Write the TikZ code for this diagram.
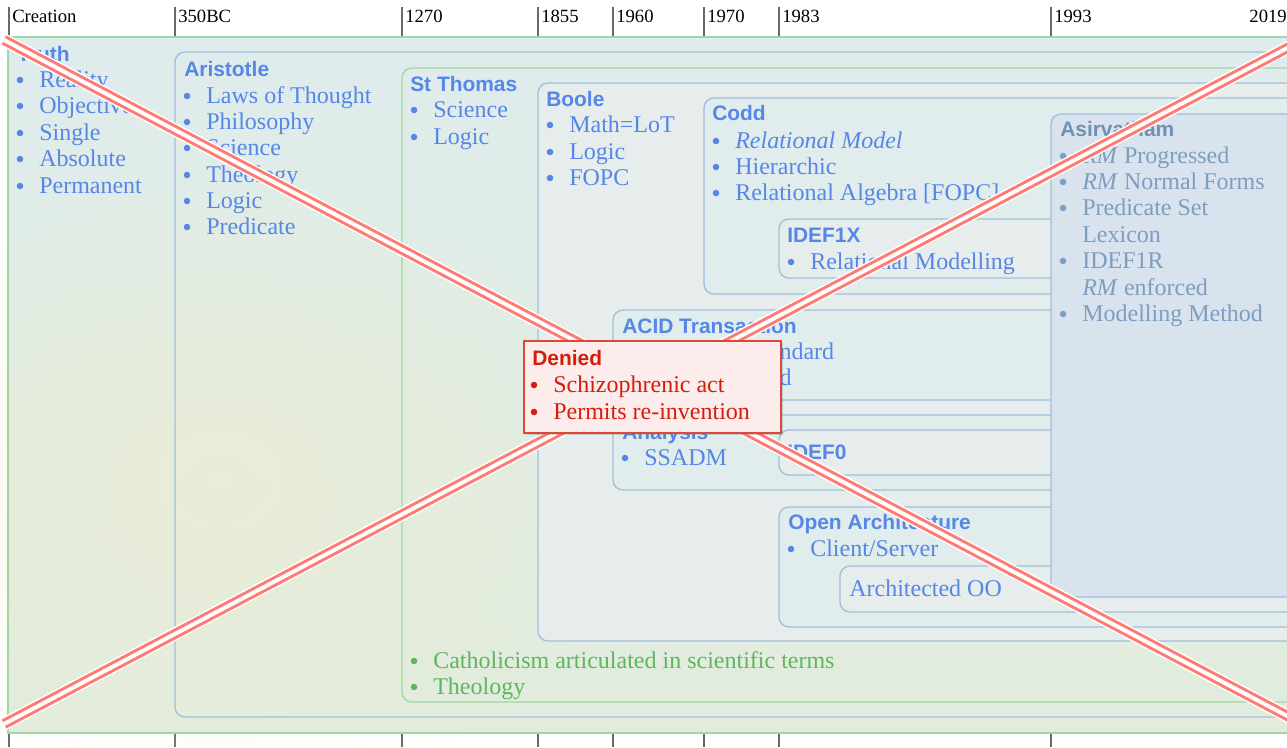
\documentclass[tikz,border=0pt]{standalone}
\usepackage{fontspec}
\setmainfont{Liberation Serif}
\setsansfont{Liberation Sans}
\usetikzlibrary{shadows,fadings}
\tikzfading[name=softspot, inner color=transparent!0, outer color=transparent!100]
\definecolor{tblue}{RGB}{86,134,232}
\definecolor{tgreen}{RGB}{92,184,92}
\definecolor{lgreen}{RGB}{162,214,162}
\definecolor{lblue}{RGB}{162,190,220}
\definecolor{asfill}{RGB}{217,227,237}
\definecolor{astext}{RGB}{125,158,192}
\definecolor{astitle}{RGB}{112,144,180}
\definecolor{dfill}{RGB}{253,236,236}
\definecolor{dline}{RGB}{222,72,56}
\definecolor{dtext}{RGB}{212,30,10}
\definecolor{tickc}{RGB}{105,105,105}
\definecolor{xred}{RGB}{255,122,114}
\definecolor{bluish}{RGB}{224,237,236}
\definecolor{greyish}{RGB}{231,237,236}
\definecolor{truthtop}{RGB}{223,236,236}
\definecolor{truthbot}{RGB}{226,236,221}
\definecolor{tint}{RGB}{240,236,205}
\newcommand\li[5]{\node[bul, fill=#4] (#1b) at (#2+4,#3-7) {}; \node[txt, text=#4] (#1) at (#2+23,#3) {#5};}
\begin{document}
\begin{tikzpicture}[x=0.75pt,y=-0.75pt,
  bx/.style={line width=1pt, rounded corners=7.5pt},
  gbx/.style={bx, draw=lgreen},
  bbx/.style={bx, draw=lblue},
  ttl/.style={anchor=base west, inner sep=0pt, font=\sffamily\bfseries\fontsize{15.7}{18}\selectfont, text=tblue},
  txt/.style={anchor=base west, inner sep=0pt, font=\fontsize{18}{20}\selectfont, text=tblue},
  bul/.style={circle, inner sep=0pt, minimum size=4.9pt, draw=none},
  yr/.style={anchor=base west, inner sep=0pt, font=\fontsize{14}{16}\selectfont, text=black},
  tk/.style={draw=tickc, line width=1.1pt},
  xw/.style={draw=white, line width=9.75pt},
  xr/.style={draw=xred, line width=7.5pt},
  xi/.style={draw=white, line width=3pt},
  deniedbox/.style={draw=dline, fill=dfill, line width=1.2pt, anchor=north west, inner sep=0pt,
     minimum width=192.75pt, minimum height=69pt,
     drop shadow={shadow xshift=1.5pt, shadow yshift=-2pt, opacity=0.25, fill=black!60}}
]
\useasboundingbox (0,0) rectangle (1287,747);
\clip (0,0) rectangle (1287,747);
\fill[white] (0,0) rectangle (1287,747);

% timeline
\foreach \t in {9,175,402,538,613,704,779,1051} {
  \draw[tk] (\t,7) -- (\t,37);
  \draw[tk] (\t,733) -- (\t,747);
}
\node[yr] (y0) at (12,22) {Creation};
\node[yr] (y1) at (178,22) {350BC};
\node[yr] (y2) at (405,22) {1270};
\node[yr] (y3) at (541,22) {1855};
\node[yr] (y4) at (616,22) {1960};
\node[yr] (y5) at (707,22) {1970};
\node[yr] (y6) at (782,22) {1983};
\node[yr] (y7) at (1054,22) {1993};
\node[yr, anchor=base east] (y8) at (1287,22) {2019};

% Truth box
\shade[top color=truthtop, bottom color=truthbot] (8,37) rectangle (1300,733);
\fill[tint, path fading=softspot, fill opacity=0.55] (220,480) ellipse [x radius=400, y radius=320];
\draw[lgreen, line width=1pt] (8,37) rectangle (1300,733);

% nested boxes
\draw[bbx] (175,52) rectangle (1310,717);
\draw[gbx] (402,68) rectangle (1310,702);
\filldraw[bbx, fill=greyish] (538,83) rectangle (1310,641);
\filldraw[bbx, fill=bluish] (704,98) rectangle (1310,294);
\filldraw[bbx, fill=greyish] (779,219) rectangle (1310,278);
\filldraw[bbx, fill=bluish] (613,310) rectangle (1310,400);
\filldraw[bbx, fill=bluish] (613,415) rectangle (1310,490);
\filldraw[bbx, fill=greyish] (779,430) rectangle (1310,475);
\filldraw[bbx, fill=bluish] (779,507) rectangle (1310,627);
\filldraw[bbx, fill=greyish] (840,566) rectangle (1310,612);
\filldraw[bbx, fill=asfill] (1051,114) rectangle (1310,597);

% Truth
\node[ttl] (truth) at (17,61) {Truth};
\li{tr1}{16}{87}{tblue}{Reality}
\li{tr2}{16}{113}{tblue}{Objective}
\li{tr3}{16}{140}{tblue}{Single}
\li{tr4}{16}{166}{tblue}{Absolute}
\li{tr5}{16}{193}{tblue}{Permanent}

% Aristotle
\node[ttl] (arist) at (184,76) {Aristotle};
\li{ar1}{183}{103}{tblue}{Laws of Thought}
\li{ar2}{183}{129}{tblue}{Philosophy}
\li{ar3}{183}{155}{tblue}{Science}
\li{ar4}{183}{182}{tblue}{Theology}
\li{ar5}{183}{208}{tblue}{Logic}
\li{ar6}{183}{234}{tblue}{Predicate}

% St Thomas
\node[ttl] (thomas) at (410,91) {St Thomas};
\li{st1}{410}{117}{tblue}{Science}
\li{st2}{410}{144}{tblue}{Logic}
\li{st3}{410}{668}{tgreen}{Catholicism articulated in scientific terms}
\li{st4}{410}{694}{tgreen}{Theology}

% Boole
\node[ttl] (boole) at (546,106) {Boole};
\li{bo1}{546}{132}{tblue}{Math=LoT}
\li{bo2}{546}{159}{tblue}{Logic}
\li{bo3}{546}{185}{tblue}{FOPC}

% Codd
\node[ttl] (codd) at (712,120) {Codd};
\li{co1}{712}{148}{tblue}{\itshape Relational Model}
\li{co2}{712}{174}{tblue}{Hierarchic}
\li{co3}{712}{200}{tblue}{Relational Algebra [FOPC]}

% IDEF1X
\node[ttl] (idef1x) at (787,242) {IDEF1X};
\li{ix1}{787}{269}{tblue}{Relational Modelling}

% ACID
\node[ttl] (acid) at (622,333) {ACID Transaction};
\li{ac1}{621}{359}{tblue}{Enterprise Standard}
\li{ac2}{621}{385}{tblue}{ANSI Standard}

% Analysis
\node[ttl] (analysis) at (622,439) {Analysis};
\li{an1}{621}{465}{tblue}{SSADM}

% IDEF0
\node[ttl] (idef0) at (787,459) {IDEF0};

% Open Architecture
\node[ttl] (openarch) at (788,529) {Open Architecture};
\li{oa1}{787}{556}{tblue}{Client/Server}
\node[txt] (archoo) at (849,596) {Architected OO};

% Asirvatham
\node[ttl, text=astitle] (asir) at (1060,136) {Asirvatham};
\li{as1}{1059}{163}{astext}{\textit{RM} Progressed}
\li{as2}{1059}{189}{astext}{\textit{RM} Normal Forms}
\li{as3}{1059}{215}{astext}{Predicate Set}
\node[txt, text=astext] (as3b) at (1082,242) {Lexicon};
\li{as4}{1059}{268}{astext}{IDEF1R}
\node[txt, text=astext] (as4b) at (1082,295) {\textit{RM} enforced};
\li{as5}{1059}{321}{astext}{Modelling Method}

% red X
\coordinate (xa1) at (4,40);
\coordinate (xa2) at (1293,719);
\coordinate (xb1) at (4,724);
\coordinate (xb2) at (1293,45);
\draw[xw] (xa1) -- (xa2);
\draw[xr] (xa1) -- (xa2);
\draw[xi] (xa1) -- (xa2);
\draw[xw] (xb1) -- (xb2);
\draw[xr] (xb1) -- (xb2);
\draw[xi] (xb1) -- (xb2);

% Denied
\node[deniedbox] (denied) at (523,340) {};
\node[ttl, text=dtext] (dtitle) at (532,365) {Denied};
\li{de1}{530}{392}{dtext}{Schizophrenic act}
\li{de2}{530}{419}{dtext}{Permits re-invention}
\end{tikzpicture}
\end{document}
